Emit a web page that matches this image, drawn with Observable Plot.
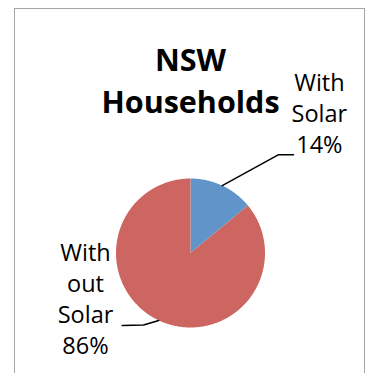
<!DOCTYPE html>
<html><head><meta charset="utf-8">
<script src="https://cdn.jsdelivr.net/npm/d3@7"></script>
<script src="https://cdn.jsdelivr.net/npm/@observablehq/plot@0.6"></script>
<style>
html,body{margin:0;padding:0;background:#fff;}
#wrap{position:relative;width:372px;height:373px;overflow:hidden;background:#fff;}
#frame{position:absolute;left:14px;top:8px;width:351px;height:420px;border:1px solid #a6a6a6;box-sizing:border-box;}
#chart{position:absolute;left:0;top:0;}
</style></head><body>
<div id="wrap"><div id="frame"></div><div id="chart"></div></div>
<script>
// ---- data ----
const categories = ["With Solar", "With out Solar"];
const percents = [14, 86];
const labelTexts = ["With\nSolar\n14%", "With\nout\nSolar\n86%"];
const titleText = "NSW\nHouseholds";
const colors = ["#6195c9", "#cd6661"];

// ---- layout ----
const cx = 190, cy = 252.5, R = 74.5;
const labelPos = [[1.73, 1.34], [-1.409, -1.355]];   // unit coords (text center / last baseline)
const elbows = [[[1.177, 1.318], [1.383, 1.318]], [[-0.631, -0.966], [-0.917, -0.972]]];

const total = d3.sum(percents);
let acc = 0;
const slices = categories.map((name, i) => {
  const a0 = acc / total * 2 * Math.PI;
  acc += percents[i];
  const a1 = acc / total * 2 * Math.PI;
  return {name, a0, a1, mid: (a0 + a1) / 2};
});

const polyPts = [];
slices.forEach(s => {
  polyPts.push({name: s.name, x: 0, y: 0});
  const n = Math.max(2, Math.ceil((s.a1 - s.a0) / (Math.PI / 360)));
  for (let k = 0; k <= n; k++) {
    const a = s.a0 + (s.a1 - s.a0) * k / n;
    polyPts.push({name: s.name, x: Math.sin(a), y: Math.cos(a)});
  }
  polyPts.push({name: s.name, x: 0, y: 0});
});

const leaderPts = [];
slices.forEach((s, i) => {
  leaderPts.push({name: s.name, x: Math.sin(s.mid), y: Math.cos(s.mid)});
  elbows[i].forEach(p => leaderPts.push({name: s.name, x: p[0], y: p[1]}));
});

const labels = slices.map((s, i) => ({name: s.name, text: labelTexts[i], x: labelPos[i][0], y: labelPos[i][1]}));

const plot = Plot.plot({
  width: 372, height: 373,
  marginTop: 0, marginRight: 0, marginBottom: 0, marginLeft: 0,
  x: {domain: [-1, 1], range: [cx - R, cx + R], axis: null},
  y: {domain: [-1, 1], range: [cy + R, cy - R], axis: null},
  color: {domain: categories, range: colors},
  style: {fontFamily: "'Open Sans', Lato, sans-serif", background: "transparent", overflow: "visible"},
  marks: [
    Plot.line(polyPts, {x: "x", y: "y", z: "name", fill: "name", stroke: "none", curve: "linear"}),
    Plot.line(leaderPts, {x: "x", y: "y", z: "name", stroke: "#000", strokeWidth: 1.5, curve: "linear"}),
    Plot.text(labels, {x: "x", y: "y", text: "text", lineAnchor: "bottom", textAnchor: "middle", lineHeight: 1.32, fontSize: 23.5, fill: "#000"}),
    Plot.text([titleText], {x: 0, y: 1.873, text: d => d, lineAnchor: "bottom", textAnchor: "middle", lineHeight: 1.38, fontSize: 30.5, fontWeight: "bold", fill: "#000"})
  ]
});
document.getElementById("chart").appendChild(plot);
</script>
</body></html>
